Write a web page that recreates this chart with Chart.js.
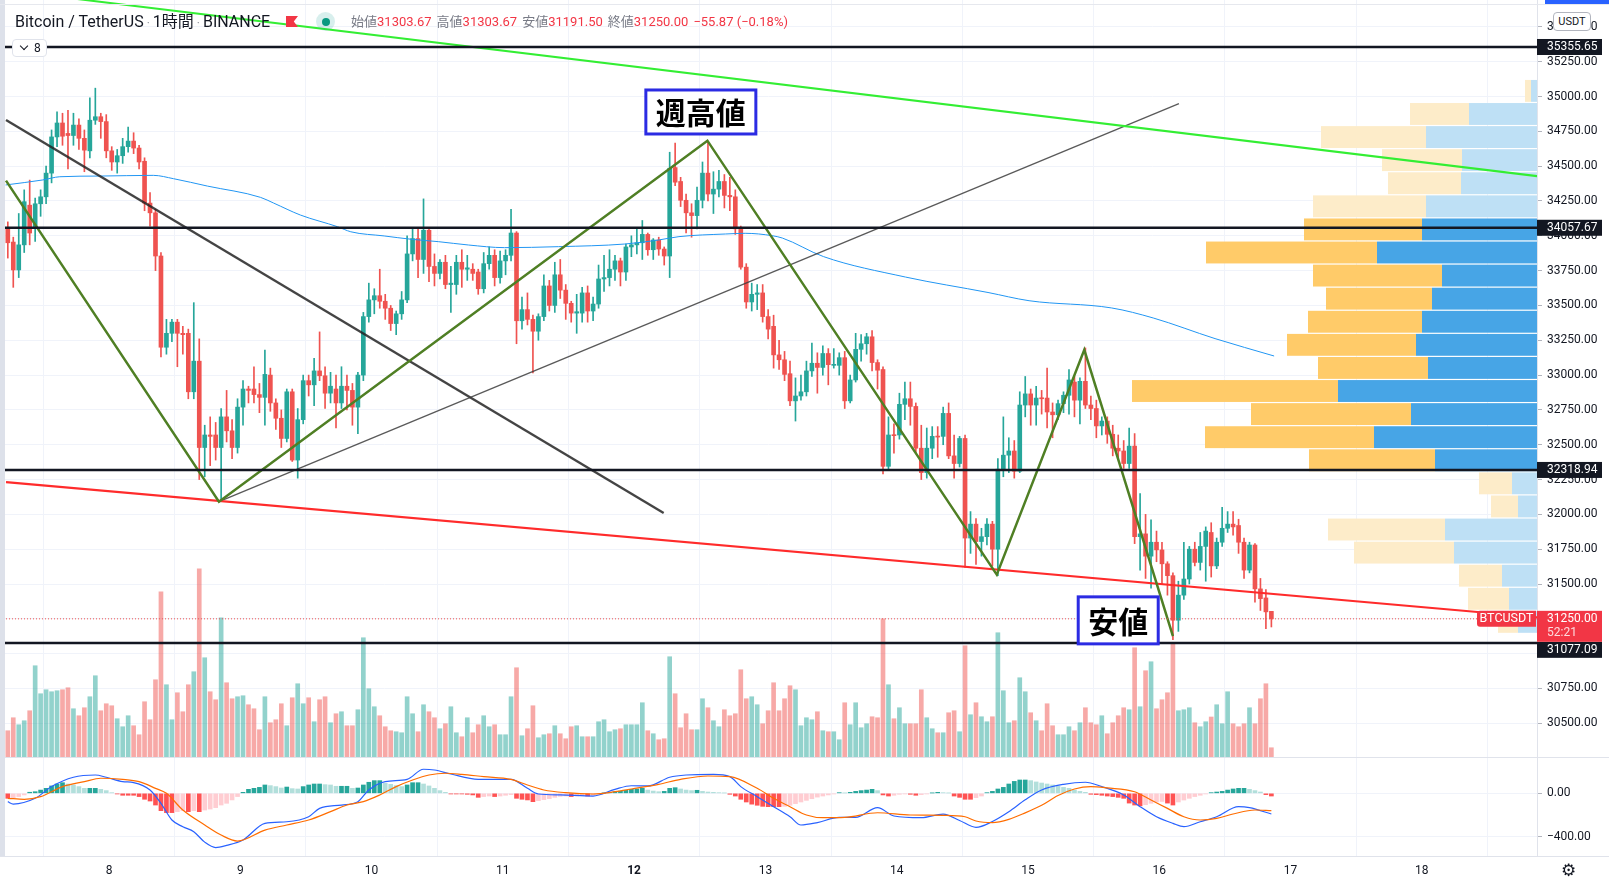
<!DOCTYPE html>
<html lang="ja">
<head>
<meta charset="utf-8">
<title>Bitcoin / TetherUS 1時間</title>
<script src="https://cdn.jsdelivr.net/npm/chart.js@4.4.1/dist/chart.umd.min.js"></script>
<style>
  html,body{margin:0;padding:0;background:#fff;}
  body{width:1609px;height:888px;position:relative;overflow:hidden;font-family:Roboto,"Noto Sans CJK JP",sans-serif;}
  .pane{position:absolute;left:0;width:1609px;}
  #mainWrap{top:0;height:757px;}
  #subWrap{top:757px;height:131px;}
  .sep{position:absolute;left:0;width:1609px;height:1px;background:#e0e3eb;}
  #leftStrip{position:absolute;left:0;top:0;width:5px;height:856px;background:#dde1ea;}
  #topLine{position:absolute;left:0;top:4px;width:1609px;height:1px;background:#e6e8ee;}
  #topBlue{position:absolute;left:1545px;top:0;width:64px;height:4px;background:#2962ff;}
  #title{position:absolute;left:15px;top:11px;font-size:16px;color:#131722;white-space:nowrap;line-height:21px;}
  .dot{color:#9598a1;padding:0 3px;font-size:12px;}
  #flag{position:absolute;left:286px;top:16px;width:12px;height:11px;background:#f23645;clip-path:polygon(0 0,100% 0,65% 50%,100% 100%,0 100%);}
  #halo{position:absolute;left:316px;top:12px;width:19px;height:19px;border-radius:50%;background:rgba(38,166,154,0.18);}
  #halo i{position:absolute;left:5.5px;top:5.5px;width:8px;height:8px;border-radius:50%;background:#089981;}
  #ohlc{position:absolute;left:351px;top:13px;font-size:13px;white-space:nowrap;line-height:18px;}
  #ohlc .k{color:#787b86;}
  #ohlc .v{color:#f23645;margin-right:5px;}
  #legendBtn{position:absolute;left:12px;top:39px;width:35px;height:18px;border:1px solid #e0e3eb;border-radius:4px;background:#fff;font-size:12px;color:#131722;box-sizing:border-box;}
  #legendBtn .chev{position:absolute;left:8px;top:3px;width:5px;height:5px;border-right:1.5px solid #131722;border-bottom:1.5px solid #131722;transform:rotate(45deg);}
  #legendBtn .n{position:absolute;left:21px;top:0px;line-height:16px;}
  #usdt{position:absolute;left:1553px;top:12px;width:38px;height:19px;border:1px solid #b2b5be;border-radius:4px;background:#fff;font-size:11px;color:#131722;box-sizing:border-box;text-align:center;line-height:17px;}
  #gear{position:absolute;left:1561px;top:860px;font-size:17px;color:#131722;font-family:"DejaVu Sans",sans-serif;}
</style>
</head>
<body>
<div id="mainWrap" class="pane"><canvas id="mainChart"></canvas></div>
<div id="subWrap" class="pane"><canvas id="subChart"></canvas></div>
<div class="sep" style="top:757px"></div>
<div class="sep" style="top:856px"></div>
<div id="leftStrip"></div>
<div id="topLine"></div>
<div id="topBlue"></div>
<div id="title">Bitcoin / TetherUS<span class="dot">·</span>1時間<span class="dot">·</span>BINANCE</div>
<div id="flag"></div>
<div id="halo"><i></i></div>
<div id="ohlc"><span class="k">始値</span><span class="v">31303.67</span><span class="k">高値</span><span class="v">31303.67</span><span class="k">安値</span><span class="v">31191.50</span><span class="k">終値</span><span class="v">31250.00</span><span class="v">−55.87 (−0.18%)</span></div>
<div id="legendBtn"><span class="chev"></span><span class="n">8</span></div>
<div id="usdt">USDT</div>
<div id="gear">⚙</div>
<script>
// ---------------- DATA ----------------
const START_HOUR = 5;          // first candle: day 7, 05:00 (hours counted from day 7 00:00)
const DAY_LABELS = [8, 9, 10, 11, 12, 13, 14, 15, 16, 17, 18];
const PRICE_TICKS = [30500, 30750, 31000, 31250, 31500, 31750, 32000, 32250, 32500, 32750, 33000, 33250, 33500, 33750, 34000, 34250, 34500, 34750, 35000, 35250, 35500];
const MACD_TICKS = [0, -400];

const OPEN = [
34060,33955,33755,33935,34220,34060,34230,34280,34450,34710,
34810,34735,34720,34795,34700,34610,34830,34855,34820,34610,
34530,34575,34640,34680,34630,34535,34235,34165,33855,33200,
33300,33380,33300,33300,32880,33100,32480,32570,32570,32480,
32700,32600,32480,32770,32900,32900,32860,32840,33000,32800,
32690,32545,32880,32390,32680,32960,32930,33030,32995,32870,
32900,32800,32920,32890,32770,33000,33420,33540,33570,33530,
33480,33370,33440,33540,33870,33980,33830,34040,33780,33730,
33810,33650,33650,33810,33760,33760,33740,33620,33800,33860,
33700,33820,33860,34020,33390,33470,33400,33315,33420,33640,
33500,33720,33610,33515,33445,33445,33590,33460,33510,33690,
33700,33760,33820,33740,33920,33935,33950,34010,33900,33970,
33905,33855,34490,34390,34255,34165,34145,34255,34450,34300,
34335,34390,34290,34280,34050,33775,33525,33580,33590,33420,
33350,33145,33110,33010,32815,32850,32880,33030,33085,33055,
33155,33070,33070,33125,32815,32965,33185,33225,33275,33090,
33040,32345,32570,32570,32790,32830,32775,32475,32300,32475,
32560,32560,32725,32420,32365,32545,31830,31930,31805,31840,
31930,31750,32325,32425,32455,32310,32785,32865,32785,32835,
32835,32735,32715,32795,32855,32950,32820,32955,32785,32760,
32635,32670,32575,32475,32455,32365,32490,31840,31860,31700,
31800,31745,31645,31560,31240,31420,31536,31750,31655,31770,
31870,31630,31800,31900,31930,31920,31800,31600,31780,31465,
31400,31303.67];
const HIGH = [
34100,33990,34160,34330,34400,34270,34330,34500,34760,34890,
34880,34900,34880,34840,34760,34990,35060,34880,34870,34640,
34620,34700,34780,34740,34650,34560,34310,34190,33880,33400,
33400,33400,33350,33330,33520,33260,32640,32700,32660,32760,
32890,32680,32830,32960,32920,33060,32940,33180,33050,32830,
32750,32900,32900,32760,33000,33000,33120,33310,33060,33020,
33000,33060,33000,32940,33020,33450,33660,33620,33760,33580,
33500,33460,33600,34000,34060,34060,34265,34060,33870,33830,
33860,33780,33860,33900,33860,33800,33760,33880,33920,33900,
33890,33900,34190,34030,33560,33590,33430,33440,33720,33680,
33810,33830,33650,33530,33580,33630,33640,33560,33790,33860,
33900,33860,33840,33940,34000,34060,34110,34020,33980,33990,
33920,34600,34665,34420,34300,34230,34350,34530,34675,34460,
34470,34440,34420,34330,34070,33800,33660,33650,33650,33470,
33430,33250,33170,33100,32980,33000,33100,33230,33160,33210,
33190,33190,33160,33170,33000,33300,33290,33300,33320,33110,
33060,32700,32650,32870,32950,32950,32800,32640,32620,32630,
32630,32770,32800,32570,32560,32570,32020,31970,31900,31970,
31950,32400,32700,32550,32530,32880,32990,32900,32920,32890,
33050,32800,32820,32880,33040,32990,32980,33195,32850,32820,
32700,32700,32640,32570,32530,32620,32580,32150,32000,31960,
31880,31800,31660,31580,31520,31800,31770,31800,31870,31910,
31940,31830,32050,32020,32020,31965,31830,31800,31790,31540,
31460,31303.67];
const LOW = [
33840,33630,33700,33880,33935,33960,34140,34230,34380,34640,
34650,34480,34650,34620,34460,34560,34800,34700,34560,34470,
34450,34520,34600,34590,34480,34180,34070,33750,33130,33150,
33240,33060,33150,32830,32830,32250,32270,32350,32390,32100,
32520,32400,32440,32640,32800,32800,32730,32640,32740,32610,
32480,32520,32380,32260,32650,32850,32780,32960,32760,32800,
32620,32760,32750,32640,32580,32960,33380,33440,33480,33400,
33320,33290,33400,33520,33820,33700,33730,33670,33640,33690,
33620,33450,33580,33630,33680,33680,33580,33590,33760,33640,
33660,33720,33820,33225,33330,33360,33015,33250,33390,33460,
33450,33550,33400,33380,33300,33380,33380,33390,33480,33600,
33640,33680,33640,33680,33850,33870,33830,33860,33830,33860,
33790,33700,34360,34210,34020,33990,34050,34200,34250,34160,
34280,34200,34180,34010,33760,33480,33460,33470,33380,33260,
33050,33040,32960,32780,32670,32820,32850,32990,32870,33000,
32930,33050,33000,32760,32800,32950,33100,33150,33030,32900,
32290,32320,32440,32540,32680,32640,32440,32250,32260,32400,
32410,32500,32400,32260,32340,31620,31720,31640,31700,31780,
31630,31560,32270,32300,32260,32300,32700,32640,32640,32720,
32620,32550,32680,32730,32720,32700,32650,32760,32680,32550,
32570,32510,32420,32400,32330,32330,31790,31600,31540,31470,
31660,31500,31420,31100,31160,31390,31500,31630,31600,31520,
31550,31610,31770,31870,31850,31720,31540,31580,31370,31310,
31180,31191.5];
const CLOSE = [
33950,33755,33935,34245,34020,34230,34280,34450,34710,34810,
34715,34720,34795,34700,34615,34830,34855,34820,34610,34530,
34575,34640,34680,34630,34530,34235,34165,33855,33200,33300,
33380,33300,33290,32880,33100,32480,32570,32560,32480,32700,
32600,32480,32770,32900,32890,32860,32840,33005,32800,32690,
32545,32880,32390,32680,32960,32930,33030,32995,32870,32920,
32800,32920,32890,32770,33000,33420,33540,33570,33530,33480,
33370,33440,33540,33870,33980,33830,34040,33780,33730,33810,
33650,33660,33810,33760,33770,33730,33620,33800,33860,33700,
33820,33860,34020,33390,33470,33400,33315,33420,33640,33500,
33720,33610,33515,33445,33455,33590,33460,33510,33690,33700,
33760,33820,33740,33920,33935,33950,34010,33900,33970,33905,
33855,34485,34385,34255,34165,34145,34255,34450,34300,34335,
34390,34290,34280,34050,33775,33525,33580,33590,33420,33330,
33145,33110,33005,32815,32850,32880,33030,33085,33055,33155,
33075,33075,33125,32815,32965,33185,33225,33275,33090,33035,
32345,32570,32565,32790,32830,32775,32475,32300,32475,32560,
32555,32725,32420,32365,32545,31830,31930,31805,31840,31930,
31750,32325,32425,32455,32310,32785,32865,32785,32835,32830,
32735,32715,32795,32855,32965,32820,32955,32785,32760,32635,
32670,32575,32475,32455,32365,32490,31840,31860,31700,31800,
31745,31645,31560,31240,31420,31536,31750,31655,31770,31880,
31630,31800,31900,31930,31910,31800,31600,31780,31465,31395,
31300,31250];
const VOLUME = [
1050,1570,1290,1450,1850,3650,2530,2690,2610,2650,
2690,2770,1930,1650,1970,2410,3250,1850,2130,2050,
1530,1210,1650,1250,890,2210,1490,3090,6610,2890,
1490,2570,1810,2890,3410,7530,3970,2610,2290,5570,
2970,2330,2410,2450,2090,1930,1090,2410,1370,1490,
2130,1250,2370,2930,2130,2370,1410,2290,2410,1370,
1730,1810,1250,1250,1890,4770,2730,2010,1650,1210,
1050,1010,970,2410,1730,1010,2090,1810,1570,1130,
1330,2010,970,810,1570,970,1290,1650,1210,1290,
890,890,2410,3570,850,1130,2050,770,890,930,
1250,930,730,1210,1250,810,810,810,1410,1490,
1010,1090,1130,1290,1290,1290,2170,
1050,930,690,730,4010,2530,1170,1730,1090,1090,
2330,1970,1450,1210,1890,1650,1730,3490,2330,2410,
2090,1330,1850,2970,1850,2330,2850,2690,1250,1570,
1490,1810,1050,1010,1010,690,2170,1290,2170,1170,
1330,1610,1570,5530,2890,1530,1970,1330,1330,1330,
2690,1570,1130,970,970,1770,1850,1010,4450,1690,
2170,1610,1410,1610,4970,2650,1370,1450,3170,2610,
1770,1450,1050,2130,1250,890,890,1210,1050,1370,
1970,1370,1290,1650,930,1370,1650,1970,1890,4370,
2010,3450,3810,1930,2290,2570,4570,1850,1890,1970,
1370,1210,1410,1600,2090,1330,2610,1330,1210,1330,1970,
1330,2330,2930,370];
const HIST = [
-46,-40,-30,-15,10,15,30,46,68,86,
98,86,77,62,46,46,46,37,25,6,
-6,-18,-18,-18,-30,-55,-71,-108,-160,-178,
-178,-169,-160,-169,-160,-169,-154,-145,-132,-108,
-92,-61,-30,9,37,46,55,77,71,62,
49,58,43,40,62,77,86,86,80,77,
65,65,65,46,49,77,102,117,117,92,
83,71,62,77,98,98,86,68,46,25,
9,-6,-6,-6,-9,-15,-37,-30,-25,-30,
-25,-18,-12,-46,-55,-61,-77,-68,-58,-49,
-37,-28,-25,-30,-25,-21,-25,-18,-6,3,
9,15,21,28,37,40,46,
30,21,15,18,46,52,40,30,25,28,18,12,9,6,3,
-9,-25,-55,-80,-100,-110,-120,-123,-123,-123,-120,-110,-95,
-80,-65,-50,-35,-25,-15,-6,
6,3,9,18,25,30,37,25,
-15,-25,-18,-9,-6,-9,-18,-12,
-6,3,9,6,3,
-25,-37,-55,-55,-40,-25,
6,18,40,55,86,110,123,123,
117,105,95,86,77,65,55,46,30,18,9,
-9,-12,-18,-25,-30,-37,-46,
-90,-108,-115,-105,
-92,-80,-75,-90,-108,
-80,-62,-46,-30,-18,-6,
6,12,18,30,40,46,46,37,25,12,
-12,-25];
const MACD_I = [0,1,5,8,12,16,18,21,23,26,28,30,32,34,36,38,40,43,47,51,55,57,61,64,66,69,73,76,78,81,86,92,95,97,101,107,111,114,117,121,124,129,132,134,137,140,143,145,148,152,155,159,162,167,171,174,177,180,183,186,189,193,197,200,204,207,210,213,215,218,221,225,227,231];
const MACD_V = [-77,-99,-46,62,148,169,148,108,99,31,-92,-246,-308,-354,-450,-500,-480,-430,-277,-262,-216,-139,-108,-77,31,108,129,222,215,178,129,129,46,-6,-15,-25,37,70,68,148,169,175,154,62,-31,-123,-216,-292,-270,-222,-222,-132,-209,-225,-191,-250,-314,-260,-170,-60,31,83,102,62,-15,-123,-216,-277,-308,-262,-216,-123,-132,-191];
const SIG_I = [0,3,6,10,14,17,21,24,27,29,32,36,39,42,47,51,55,59,62,65,68,71,74,77,80,83,87,92,95,98,102,107,111,114,119,123,128,132,137,140,143,146,149,153,159,165,171,175,177,180,183,186,189,192,195,198,201,206,209,212,215,218,221,224,228,231];
const SIG_V = [-46,-55,-31,62,108,139,129,108,46,0,-154,-292,-385,-440,-339,-292,-246,-169,-108,-77,-15,62,123,169,185,175,154,129,77,31,6,-6,15,40,83,129,160,154,46,-46,-123,-200,-225,-222,-179,-200,-203,-216,-255,-270,-240,-180,-110,-20,40,62,50,15,-62,-139,-216,-246,-231,-191,-154,-160];
const MA_I = [-0.4,6.4,9.5,16.9,26.6,30.3,36.5,46.2,48.6,53.5,60.3,62.7,68.8,73.8,78.7,84.2,90.8,100.7,112.8,119,122.7,131.2,134.8,139.7,141.6,149.1,164.1,179.2,186.7,201.8,209.4,220.7,231.5];
const MA_V = [34365,34401,34424,34429,34434,34410,34357,34276,34235,34149,34065,34029,33999,33975,33958,33934,33915,33922,33941,33970,33994,34013,34018,34001,33984,33851,33704,33593,33534,33482,33410,33262,33137];

// volume profile (visible range), rows from top to bottom, volumes in k BTC
const VP_HIGH = 35119, VP_LOW = 31141;
const VP_UP   = [0.6,6.8,11.1,7.5,7.6,11.1,11.5,16.0,9.5,10.5,11.5,12.1,10.9,19.9,12.6,16.3,10.2,2.5,1.9,9.2,8.3,3.5,2.8,1.9];
const VP_DOWN = [0.6,5.9,10.5,8.0,7.3,11.3,11.8,17.1,12.9,10.6,11.4,12.9,11.0,20.6,16.0,16.9,12.6,3.3,2.7,11.7,10.0,4.3,4.1,2.0];
const VA_FIRST = 6, VA_LAST = 16;

// drawings: [candle index, price]
const LINE_LIME   = [[10, 35713], [280.5, 34424]];
const LINE_DARK   = [[-0.33, 34831], [119.9, 32010]];
const LINE_GRAY   = [[38.6, 32091], [214.1, 34949]];
const LINE_RED    = [[-0.33, 32231], [280.5, 31258]];
const LINE_ZIGZAG = [[-0.33, 34396], [38.6, 32091], [127.9, 34683], [180.8, 31567], [196.8, 33181], [213.0, 31126]];
const H_LINES = [35355.65, 34057.67, 32318.94, 31077.09];
const LAST_PRICE = 31250.00, COUNTDOWN = '52:21', SYMBOL = 'BTCUSDT';
const NOTES = [{text: '週高値', i: 126.7, price: 34889, w: 110, h: 44}, {text: '安値', i: 203.0, price: 31239, w: 80, h: 47}];

// ---------------- CHART ----------------
const X_MIN = 4.073, X_MAX = 285.06;
const PRICE_MIN = 30258, PRICE_MAX = 35693;
const VOL_MAX = 30280, VP_MAX = 153.7;
const MACD_MIN = -578, MACD_MAX = 335;
const AXIS_W = 72;
const GREEN = '#26a69a', RED = '#ef5350';
const xOf = i => START_HOUR + 0.5 + i;
const pts = arr => arr.map(p => ({x: xOf(p[0]), y: p[1]}));
const noPad = s => { s.paddingTop = 0; s.paddingBottom = 0; s.paddingLeft = 0; s.paddingRight = 0; };

Chart.defaults.font.family = 'Roboto, "Noto Sans CJK JP", sans-serif';
Chart.defaults.color = '#131722';

const up = CLOSE.map((c, i) => c >= OPEN[i]);
const candleColors = up.map(u => u ? GREEN : RED);
const volColors = up.map(u => u ? 'rgba(38,166,154,0.5)' : 'rgba(239,83,80,0.5)');
const histColors = HIST.map((h, i) => {
  const p = i > 0 ? HIST[i - 1] : h;
  if (h >= 0) return h >= p ? '#26a69a' : '#b2dfdb';
  return h <= p ? '#ff5252' : '#ffcdd2';
});
const dayTicks = DAY_LABELS.map(d => ({value: (d - 7) * 24}));

function lineDS(data, color, width, order, extra) {
  return Object.assign({type: 'line', data, borderColor: color, borderWidth: width, pointRadius: 0,
    fill: false, order, xAxisID: 'x', yAxisID: 'y'}, extra || {});
}

const vpPlugin = {
  id: 'vp',
  beforeDatasetsDraw(chart) {
    const ctx = chart.ctx, ys = chart.scales.y, xs = chart.scales.x;
    const n = VP_UP.length, step = (VP_HIGH - VP_LOW) / n;
    const pxPer = (xs.right - xs.left) / VP_MAX;
    const x0 = xs.right;
    ctx.save();
    for (let k = 0; k < n; k++) {
      const top = VP_HIGH - k * step, bot = top - step;
      const yt = ys.getPixelForValue(top), yb = ys.getPixelForValue(bot);
      const va = k >= VA_FIRST && k <= VA_LAST;
      const x1 = x0 - VP_UP[k] * pxPer, x2 = x0 - (VP_UP[k] + VP_DOWN[k]) * pxPer;
      ctx.fillStyle = va ? '#47a5e6' : '#bee0f5';
      ctx.fillRect(x1, yt, x0 - x1, yb - yt - 1.2);
      ctx.fillStyle = va ? '#ffcb69' : '#fdecc9';
      ctx.fillRect(x2, yt, x1 - x2, yb - yt - 1.2);
    }
    ctx.restore();
  }
};

const labelPlugin = {
  id: 'labels',
  afterDraw(chart) {
    const ctx = chart.ctx, ys = chart.scales.y, xs = chart.scales.x, ca = chart.chartArea;
    ctx.save();
    NOTES.forEach(n => {
      const cx = xs.getPixelForValue(xOf(n.i)), cy = ys.getPixelForValue(n.price);
      ctx.fillStyle = '#ffffff';
      ctx.fillRect(cx - n.w / 2, cy - n.h / 2, n.w, n.h);
      ctx.strokeStyle = '#2b2be3'; ctx.lineWidth = 3;
      ctx.strokeRect(cx - n.w / 2, cy - n.h / 2, n.w, n.h);
      ctx.font = 'bold 30px "Noto Sans CJK JP", sans-serif';
      ctx.textAlign = 'center'; ctx.textBaseline = 'middle';
      ctx.lineWidth = 3; ctx.strokeStyle = '#ffffff';
      ctx.strokeText(n.text, cx, cy + 1);
      ctx.fillStyle = '#000000';
      ctx.fillText(n.text, cx, cy + 1);
    });
    const yl = ys.getPixelForValue(LAST_PRICE);
    const lastTop = yl - 8, lastBot = yl + 23;
    ctx.font = '12px Roboto, sans-serif';
    ctx.textAlign = 'left'; ctx.textBaseline = 'middle';
    H_LINES.forEach(p => {
      const y = ys.getPixelForValue(p);
      let top = y - 8;
      if (top < lastBot && top + 16 > lastTop) top = (y > yl) ? lastBot : lastTop - 16;
      ctx.fillStyle = '#131722';
      ctx.fillRect(ca.right, top, 65, 16);
      ctx.fillStyle = '#ffffff';
      ctx.fillText(p.toFixed(2), ca.right + 10, top + 8.5);
    });
    ctx.fillStyle = '#f23645';
    ctx.fillRect(ca.right, lastTop, 65, lastBot - lastTop);
    ctx.fillStyle = '#ffffff';
    ctx.fillText(LAST_PRICE.toFixed(2), ca.right + 10, yl + 0.5);
    ctx.fillStyle = 'rgba(255,255,255,0.82)';
    ctx.fillText(COUNTDOWN, ca.right + 10, yl + 14.5);
    ctx.fillStyle = '#f23645';
    ctx.beginPath();
    if (ctx.roundRect) ctx.roundRect(ca.right - 60, yl - 8, 59, 16, [3, 0, 0, 3]); else ctx.rect(ca.right - 60, yl - 8, 59, 16);
    ctx.fill();
    ctx.fillStyle = '#ffffff'; ctx.textAlign = 'center';
    ctx.font = '12.5px Roboto, sans-serif';
    ctx.fillText(SYMBOL, ca.right - 30.5, yl + 0.5);
    ctx.restore();
  }
};

const X_COMMON = {
  type: 'linear', min: X_MIN, max: X_MAX, offset: false,
  afterBuildTicks: s => { s.ticks = dayTicks.map(t => ({value: t.value})); },
  grid: {color: '#f0f3fa', drawTicks: false},
  border: {display: false}
};

new Chart(document.getElementById('mainChart'), {
  type: 'bar',
  data: {
    datasets: [
      {type: 'bar', data: VOLUME.map((v, i) => ({x: xOf(i), y: v})), backgroundColor: volColors,
       barThickness: 4, grouped: false, yAxisID: 'vol', xAxisID: 'x', order: 20},
      {type: 'bar', data: LOW.map((l, i) => ({x: xOf(i), y: [l, HIGH[i]]})), backgroundColor: candleColors,
       barThickness: 1, grouped: false, yAxisID: 'y', xAxisID: 'x', order: 12},
      {type: 'bar', data: OPEN.map((o, i) => ({x: xOf(i), y: [o, CLOSE[i]]})), backgroundColor: candleColors,
       barThickness: 4, minBarLength: 1, grouped: false, yAxisID: 'y', xAxisID: 'x', order: 11},
      lineDS(MA_I.map((v, k) => ({x: xOf(v), y: MA_V[k]})), '#2196f3', 1, 9, {cubicInterpolationMode: 'monotone'}),
      lineDS(pts(LINE_GRAY), 'rgba(60,60,60,0.85)', 1.3, 6),
      lineDS(pts(LINE_DARK), 'rgba(35,35,35,0.85)', 2.4, 6),
      lineDS(pts(LINE_ZIGZAG), '#4f7f24', 2.5, 5),
      lineDS(pts(LINE_RED), '#ff2b2b', 2.2, 5),
      lineDS(pts(LINE_LIME), '#33ee33', 2, 5),
      lineDS([{x: X_MIN, y: LAST_PRICE}, {x: X_MAX, y: LAST_PRICE}], '#ef5350', 1, 4, {borderDash: [1, 2]}),
      ...H_LINES.map(p => lineDS([{x: X_MIN, y: p}, {x: X_MAX, y: p}], '#131722', 2.5, 3))
    ]
  },
  options: {
    responsive: true, maintainAspectRatio: false, animation: false, devicePixelRatio: 1,
    layout: {padding: 0},
    plugins: {legend: {display: false}, tooltip: {enabled: false}},
    scales: {
      x: Object.assign({}, X_COMMON, {position: 'bottom', ticks: {display: false}, afterFit: s => { s.height = 0; noPad(s); }}),
      vol: {type: 'linear', position: 'left', display: false, min: 0, max: VOL_MAX},
      y: {
        type: 'linear', position: 'right', min: PRICE_MIN, max: PRICE_MAX,
        afterBuildTicks: s => { s.ticks = PRICE_TICKS.map(v => ({value: v})); },
        afterFit: s => { s.width = AXIS_W; noPad(s); },
        ticks: {callback: v => Number(v).toFixed(2), font: {size: 12}, color: '#131722', padding: 5},
        grid: {color: '#f0f3fa', tickColor: '#b2b5be', tickLength: 5},
        border: {color: '#e0e3eb'}
      }
    }
  },
  plugins: [vpPlugin, labelPlugin]
});

new Chart(document.getElementById('subChart'), {
  type: 'bar',
  data: {
    datasets: [
      {type: 'bar', data: HIST.map((h, i) => ({x: xOf(i), y: h})), backgroundColor: histColors,
       barThickness: 4, grouped: false, order: 5},
      {type: 'line', data: MACD_I.map((v, k) => ({x: xOf(v), y: MACD_V[k]})), borderColor: '#2962ff',
       borderWidth: 1.2, pointRadius: 0, cubicInterpolationMode: 'monotone', order: 2},
      {type: 'line', data: SIG_I.map((v, k) => ({x: xOf(v), y: SIG_V[k]})), borderColor: '#ff6d00',
       borderWidth: 1.2, pointRadius: 0, cubicInterpolationMode: 'monotone', order: 1}
    ]
  },
  options: {
    responsive: true, maintainAspectRatio: false, animation: false, devicePixelRatio: 1,
    layout: {padding: 0},
    plugins: {legend: {display: false}, tooltip: {enabled: false}},
    scales: {
      x: Object.assign({}, X_COMMON, {
        position: 'bottom',
        afterFit: s => { s.height = 32; noPad(s); },
        ticks: {
          padding: 8, color: '#131722', maxRotation: 0, autoSkip: false,
          callback: v => String(v / 24 + 7),
          font: c => ({size: 12, weight: (c.tick && c.tick.value === 120) ? 'bold' : 'normal'})
        }
      }),
      y: {
        type: 'linear', position: 'right', min: MACD_MIN, max: MACD_MAX,
        afterBuildTicks: s => { s.ticks = MACD_TICKS.map(v => ({value: v})); },
        afterFit: s => { s.width = AXIS_W; noPad(s); },
        ticks: {callback: v => (v < 0 ? '−' : '') + Math.abs(v).toFixed(2), font: {size: 12}, color: '#131722', padding: 5},
        grid: {color: '#f0f3fa', tickColor: '#b2b5be', tickLength: 5},
        border: {color: '#e0e3eb'}
      }
    }
  }
});
</script>
</body>
</html>
